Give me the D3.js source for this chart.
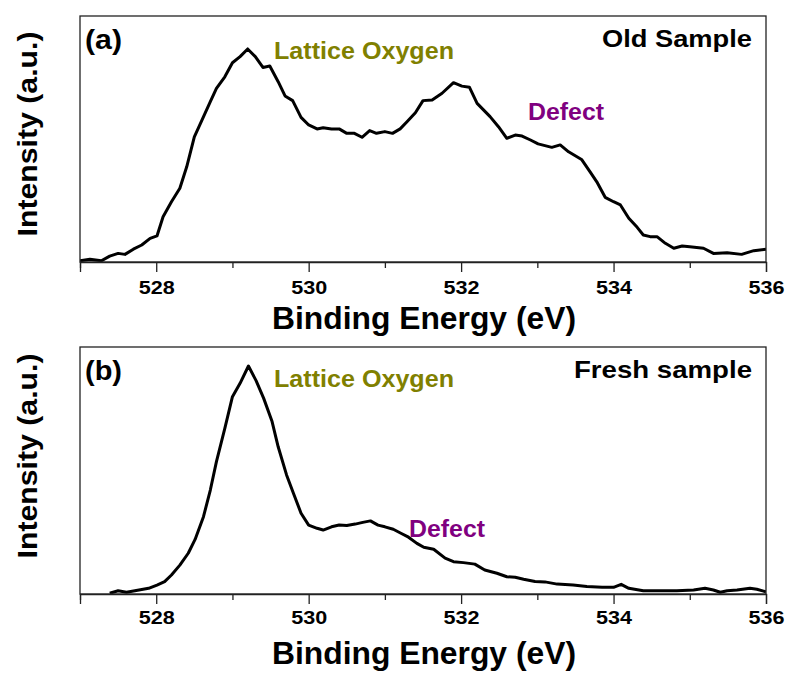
<!DOCTYPE html>
<html>
<head>
<meta charset="utf-8">
<script src="https://cdn.jsdelivr.net/npm/d3@7"></script>
<style>
    html, body { margin: 0; padding: 0; background: #fff; }
    text { font-family: Arial, "Liberation Sans", sans-serif; font-weight: bold; }
</style>
</head>
<body>
<div id="chart"></div>
<script>
// Panel (a) - old sample
const energyA = [527.00, 527.13, 527.28, 527.39, 527.50, 527.59, 527.70, 527.81, 527.92, 528.01,
    528.09, 528.20, 528.31, 528.40, 528.50, 528.60, 528.71, 528.79, 528.90, 529.00,
    529.10, 529.20, 529.30, 529.40, 529.49, 529.60, 529.69, 529.79, 529.90, 530.00,
    530.11, 530.19, 530.30, 530.40, 530.50, 530.60, 530.70, 530.80, 530.89, 531.00,
    531.10, 531.20, 531.29, 531.40, 531.50, 531.62, 531.75, 531.90, 532.01, 532.11,
    532.21, 532.38, 532.49, 532.60, 532.71, 532.80, 532.91, 533.01, 533.19, 533.30,
    533.41, 533.58, 533.69, 533.78, 533.89, 534.00, 534.09, 534.20, 534.31, 534.39,
    534.48, 534.57, 534.68, 534.79, 534.90, 535.00, 535.18, 535.31, 535.49, 535.68,
    535.84, 536.00];
const intensityA = [0.5, 1.1, 0.5, 2.4, 3.5, 3.1, 5.2, 6.9, 9.6, 10.6,
    18.4, 24.5, 30.0, 38.7, 50.9, 57.7, 65.2, 70.6, 75.3, 81.0,
    83.5, 86.6, 83.5, 79.1, 79.7, 73.3, 67.5, 65.6, 58.8, 55.7,
    54.1, 54.6, 54.1, 54.1, 52.3, 52.3, 50.7, 53.4, 52.3, 53.0,
    52.3, 54.1, 57.0, 60.7, 65.6, 65.9, 68.6, 72.9, 71.5, 71.0,
    64.5, 59.1, 55.0, 50.3, 51.6, 51.2, 49.6, 48.0, 46.6, 47.6,
    44.8, 41.7, 36.7, 32.6, 26.3, 24.5, 23.2, 17.8, 14.1, 11.0,
    10.3, 10.3, 7.6, 5.6, 6.5, 6.2, 5.6, 3.5, 3.8, 3.1,
    4.6, 5.2];

// Panel (b) - fresh sample
const energyB = [527.39, 527.50, 527.61, 527.72, 527.90, 528.01, 528.11, 528.20, 528.31, 528.42,
    528.51, 528.62, 528.71, 528.79, 528.90, 529.00, 529.10, 529.21, 529.31, 529.41,
    529.52, 529.60, 529.71, 529.80, 529.90, 530.00, 530.11, 530.19, 530.30, 530.40,
    530.50, 530.61, 530.71, 530.81, 530.91, 531.00, 531.11, 531.21, 531.31, 531.42,
    531.51, 531.64, 531.79, 531.90, 532.03, 532.18, 532.31, 532.47, 532.60, 532.71,
    532.82, 532.97, 533.10, 533.26, 533.47, 533.65, 533.85, 534.00, 534.10, 534.20,
    534.39, 534.61, 534.83, 535.05, 535.20, 535.31, 535.40, 535.49, 535.62, 535.79,
    535.88, 536.00];
const intensityB = [0.3, 1.3, 0.7, 1.3, 2.3, 3.6, 5.0, 7.7, 11.7, 16.5,
    22.1, 31.3, 42.1, 53.6, 67.1, 79.9, 85.3, 92.3, 86.4, 79.2,
    69.8, 59.6, 48.2, 40.8, 32.7, 27.9, 26.6, 25.9, 27.2, 27.9,
    27.7, 28.3, 29.0, 29.6, 27.9, 27.2, 26.2, 24.6, 23.0, 20.5,
    18.9, 18.1, 14.5, 13.1, 12.7, 12.1, 9.7, 8.4, 7.0, 6.8,
    6.0, 5.1, 4.9, 4.0, 3.6, 3.0, 2.7, 2.7, 3.9, 2.3,
    1.3, 1.3, 1.3, 1.6, 2.3, 1.6, 0.7, 1.3, 1.6, 2.3,
    1.9, 0.9];

// Axis ticks
const majorTicks = [528, 530, 532, 534, 536];
const minorTicks = [527, 529, 531, 533, 535];

const width = 789;
const height = 674;

const svg = d3.select("#chart")
    .append("svg")
    .attr("width", width)
    .attr("height", height);

// Shared x scale (binding energy)
const x = d3.scaleLinear()
    .domain([527, 536])
    .range([80, 766]);

function drawPanel(cfg) {
    const y = d3.scaleLinear()
        .domain([0, 100])
        .range([cfg.bottom, cfg.top]);

    const g = svg.append("g");

    // clip so the trace stays inside the frame
    g.append("clipPath")
        .attr("id", cfg.id + "-clip")
        .append("rect")
        .attr("x", x.range()[0])
        .attr("y", cfg.top)
        .attr("width", x.range()[1] - x.range()[0])
        .attr("height", cfg.bottom - cfg.top);

    const points = cfg.energy.map((e, i) => [e, cfg.intensity[i]]);

    const line = d3.line()
        .x(d => x(d[0]))
        .y(d => y(d[1]));

    g.append("path")
        .datum(points)
        .attr("clip-path", `url(#${cfg.id}-clip)`)
        .attr("fill", "none")
        .attr("stroke", "#000")
        .attr("stroke-width", 3)
        .attr("stroke-linejoin", "round")
        .attr("d", line);

    // Frame
    g.append("rect")
        .attr("x", x.range()[0])
        .attr("y", cfg.top)
        .attr("width", x.range()[1] - x.range()[0])
        .attr("height", cfg.bottom - cfg.top)
        .attr("fill", "none")
        .attr("stroke", "#222")
        .attr("stroke-width", 1.3);

    // Bottom axis: major ticks with labels
    const axis = g.append("g")
        .attr("transform", `translate(0,${cfg.bottom})`)
        .call(d3.axisBottom(x)
            .tickValues(majorTicks)
            .tickSize(10)
            .tickPadding(5)
            .tickFormat(d3.format("d")));
    axis.select(".domain").attr("stroke", "#222").attr("stroke-width", 1.3);
    axis.selectAll(".tick line").attr("stroke", "#222").attr("stroke-width", 1.3);
    axis.selectAll(".tick text")
        .attr("y", cfg.tickBase - cfg.bottom)
        .attr("dy", null)
        .style("font-family", "Arial, 'Liberation Sans', sans-serif")
        .style("font-weight", "bold")
        .style("font-size", "19px")
        .attr("fill", "#000")
        .attr("textLength", 36)
        .attr("lengthAdjust", "spacingAndGlyphs");

    // minor ticks
    const minor = g.append("g")
        .attr("transform", `translate(0,${cfg.bottom})`)
        .call(d3.axisBottom(x)
            .tickValues(minorTicks)
            .tickSize(6)
            .tickFormat(""));
    minor.select(".domain").remove();
    minor.selectAll(".tick line").attr("stroke", "#222").attr("stroke-width", 1.3);

    // Axis titles
    g.append("text")
        .attr("x", 424)
        .attr("y", cfg.titleBase)
        .attr("text-anchor", "middle")
        .style("font-size", "31px")
        .attr("textLength", 304)
        .attr("lengthAdjust", "spacingAndGlyphs")
        .text("Binding Energy (eV)");

    g.append("text")
        .attr("transform", `translate(37,${cfg.yLabelMid}) rotate(-90)`)
        .attr("text-anchor", "middle")
        .style("font-size", "28px")
        .attr("textLength", 205)
        .attr("lengthAdjust", "spacingAndGlyphs")
        .text("Intensity (a.u.)");

    // Panel letter and sample name
    g.append("text")
        .attr("x", 85)
        .attr("y", cfg.top + 33)
        .style("font-size", "27px")
        .attr("textLength", 37)
        .attr("lengthAdjust", "spacingAndGlyphs")
        .text(cfg.letter);

    g.append("text")
        .attr("x", 752)
        .attr("y", cfg.top + 31)
        .attr("text-anchor", "end")
        .style("font-size", "24px")
        .attr("textLength", cfg.nameLen)
        .attr("lengthAdjust", "spacingAndGlyphs")
        .text(cfg.name);

    // Peak annotations
    g.append("text")
        .attr("x", 274)
        .attr("y", cfg.latticeBase)
        .attr("fill", "#808000")
        .style("font-size", "23.5px")
        .attr("textLength", 180)
        .attr("lengthAdjust", "spacingAndGlyphs")
        .text("Lattice Oxygen");

    g.append("text")
        .attr("x", cfg.defectX)
        .attr("y", cfg.defectBase)
        .attr("fill", "#800080")
        .style("font-size", "23.5px")
        .attr("textLength", 76)
        .attr("lengthAdjust", "spacingAndGlyphs")
        .text("Defect");
}

drawPanel({
    id: "a", top: 16, bottom: 262, tickBase: 294, titleBase: 329, yLabelMid: 134,
    letter: "(a)", name: "Old Sample", nameLen: 150,
    energy: energyA, intensity: intensityA,
    latticeBase: 59, defectX: 528, defectBase: 120
});

drawPanel({
    id: "b", top: 347, bottom: 594, tickBase: 624, titleBase: 664, yLabelMid: 456,
    letter: "(b)", name: "Fresh sample", nameLen: 178,
    energy: energyB, intensity: intensityB,
    latticeBase: 387, defectX: 409, defectBase: 537
});
</script>
</body>
</html>
